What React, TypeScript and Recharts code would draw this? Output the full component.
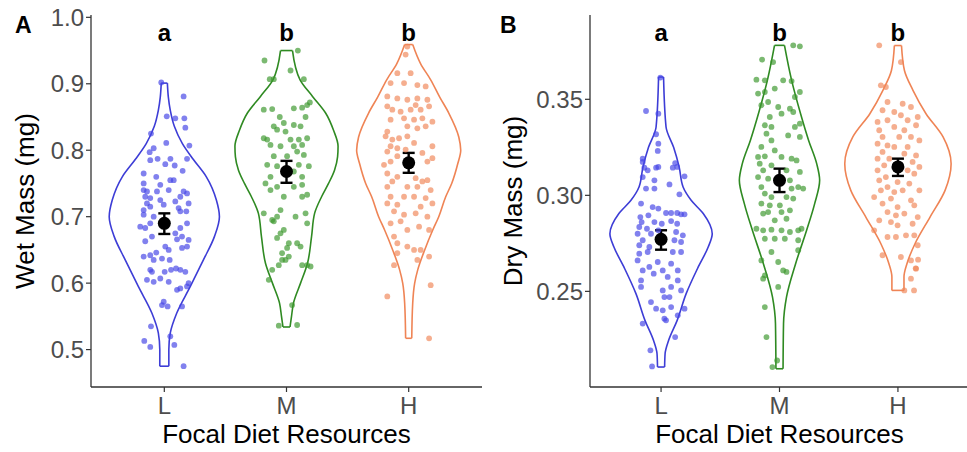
import React from 'react';
import { ScatterChart, Scatter, XAxis, YAxis, ErrorBar } from 'recharts';

const groups = ['L', 'M', 'H'];
const lineColors = ['#3d3dd6', '#2f8a22', '#ef8455'];
const dotColors = ['#4646e6', '#3c982e', '#f0875a'];
const letters = ['a', 'b', 'b'];

// violin outlines: [value, half width in category units], top to bottom
const wetViolinL = [[0.901, 0.025], [0.88, 0.033], [0.86, 0.049], [0.836, 0.082], [0.81, 0.148], [0.786, 0.238], [0.76, 0.344], [0.725, 0.426], [0.70, 0.451], [0.67, 0.41], [0.635, 0.32], [0.595, 0.213], [0.555, 0.102], [0.525, 0.049], [0.50, 0.037], [0.475, 0.037]];
const wetViolinM = [[0.950, 0.049], [0.906, 0.111], [0.881, 0.213], [0.856, 0.32], [0.83, 0.385], [0.806, 0.422], [0.79, 0.418], [0.77, 0.393], [0.75, 0.344], [0.73, 0.287], [0.705, 0.23], [0.67, 0.205], [0.63, 0.172], [0.60, 0.115], [0.57, 0.057], [0.55, 0.041], [0.534, 0.029]];
const wetViolinH = [[0.959, 0.033], [0.93, 0.098], [0.906, 0.18], [0.88, 0.254], [0.856, 0.328], [0.82, 0.41], [0.80, 0.426], [0.78, 0.402], [0.75, 0.352], [0.73, 0.303], [0.70, 0.246], [0.68, 0.197], [0.65, 0.131], [0.62, 0.074], [0.60, 0.049], [0.57, 0.033], [0.517, 0.025]];

const dryViolinL = [[0.3616, 0.021], [0.3356, 0.042], [0.325, 0.106], [0.3147, 0.153], [0.3043, 0.186], [0.2974, 0.254], [0.2905, 0.356], [0.280, 0.432], [0.2731, 0.398], [0.2627, 0.314], [0.2488, 0.212], [0.2349, 0.136], [0.2245, 0.064], [0.2175, 0.034], [0.2106, 0.030]];
const dryViolinM = [[0.3781, 0.042], [0.360, 0.102], [0.3425, 0.178], [0.3286, 0.246], [0.3165, 0.314], [0.3078, 0.339], [0.2957, 0.297], [0.2818, 0.229], [0.2644, 0.136], [0.2470, 0.059], [0.2332, 0.034], [0.2097, 0.030]];
const dryViolinH = [[0.378, 0.030], [0.365, 0.055], [0.3547, 0.127], [0.3425, 0.237], [0.3304, 0.381], [0.3165, 0.449], [0.3026, 0.398], [0.2887, 0.271], [0.2748, 0.144], [0.2644, 0.076], [0.2575, 0.051], [0.2505, 0.051]];

// jittered observations: [offset from group centre, value]
const wetPointsL = [[-0.025, 0.902], [0.158, 0.881], [0.02, 0.851], [0.09, 0.848], [0.164, 0.848], [0.172, 0.834], [-0.109, 0.825], [0.016, 0.811], [0.205, 0.807], [-0.087, 0.803], [-0.12, 0.797], [-0.055, 0.787], [-0.115, 0.785], [0.008, 0.779], [0.05, 0.787], [0.085, 0.777], [0.186, 0.787], [0.15, 0.769], [-0.169, 0.765], [-0.066, 0.76], [0.049, 0.755], [0.077, 0.755], [-0.169, 0.75], [-0.033, 0.748], [-0.169, 0.74], [-0.142, 0.738], [-0.06, 0.738], [0.036, 0.74], [0.158, 0.738], [-0.156, 0.73], [-0.115, 0.728], [-0.033, 0.725], [0.131, 0.73], [0.186, 0.735], [-0.142, 0.72], [-0.005, 0.718], [0.09, 0.723], [0.199, 0.72], [-0.115, 0.715], [0.117, 0.713], [-0.169, 0.71], [0.131, 0.708], [0.18, 0.708], [-0.169, 0.703], [-0.087, 0.7], [-0.115, 0.69], [0.186, 0.69], [-0.197, 0.685], [-0.156, 0.683], [0.131, 0.683], [-0.101, 0.67], [0.09, 0.675], [0.145, 0.67], [0.199, 0.665], [-0.156, 0.663], [0.104, 0.666], [0.008, 0.655], [0.186, 0.655], [0.145, 0.653], [0.036, 0.65], [-0.169, 0.64], [-0.115, 0.642], [-0.066, 0.646], [-0.019, 0.637], [0.044, 0.635], [-0.087, 0.635], [-0.115, 0.62], [-0.101, 0.617], [0.003, 0.617], [0.055, 0.62], [0.096, 0.622], [0.131, 0.62], [0.172, 0.617], [-0.142, 0.605], [-0.087, 0.602], [-0.033, 0.607], [0.036, 0.602], [0.199, 0.6], [0.186, 0.595], [0.131, 0.592], [0.104, 0.59], [-0.005, 0.572], [0.027, 0.565], [-0.019, 0.567], [0.145, 0.565], [-0.109, 0.535], [0.049, 0.52], [-0.164, 0.513], [-0.115, 0.504], [0.082, 0.507], [0.158, 0.475]];
const wetPointsM = [[0.093, 0.95], [-0.18, 0.935], [0.033, 0.92], [-0.137, 0.907], [-0.104, 0.907], [0.142, 0.907], [-0.186, 0.861], [-0.117, 0.862], [0.06, 0.863], [0.128, 0.864], [0.169, 0.868], [0.191, 0.872], [0.156, 0.85], [-0.055, 0.85], [-0.022, 0.841], [-0.104, 0.836], [0.06, 0.838], [0.115, 0.836], [-0.077, 0.831], [-0.008, 0.828], [-0.186, 0.818], [-0.158, 0.816], [0.033, 0.816], [0.101, 0.816], [0.169, 0.818], [-0.131, 0.808], [-0.049, 0.806], [0.06, 0.806], [0.128, 0.808], [0.087, 0.798], [0.142, 0.793], [-0.104, 0.791], [0.005, 0.791], [-0.158, 0.778], [-0.077, 0.776], [0.101, 0.778], [0.183, 0.776], [0.06, 0.768], [0.128, 0.76], [-0.131, 0.76], [-0.172, 0.75], [-0.077, 0.745], [0.06, 0.745], [0.128, 0.748], [-0.131, 0.74], [0.169, 0.733], [-0.022, 0.73], [0.128, 0.73], [-0.049, 0.71], [-0.186, 0.705], [-0.077, 0.7], [-0.117, 0.695], [-0.104, 0.693], [0.074, 0.7], [0.156, 0.705], [0.169, 0.69], [-0.022, 0.68], [-0.049, 0.675], [-0.077, 0.668], [0.019, 0.66], [0.087, 0.66], [0.005, 0.653], [0.115, 0.655], [-0.036, 0.645], [0.019, 0.64], [-0.008, 0.635], [-0.036, 0.635], [0.169, 0.627], [0.128, 0.627], [0.197, 0.625], [-0.063, 0.627], [-0.117, 0.62], [-0.145, 0.605], [0.046, 0.567], [-0.063, 0.536], [0.087, 0.537]];
const wetPointsH = [[-0.011, 0.956], [-0.025, 0.944], [-0.093, 0.916], [0.016, 0.916], [-0.148, 0.901], [-0.038, 0.901], [0.071, 0.898], [0.139, 0.896], [-0.175, 0.881], [-0.093, 0.878], [-0.011, 0.876], [0.071, 0.878], [0.153, 0.876], [0.057, 0.868], [-0.175, 0.866], [-0.134, 0.861], [-0.066, 0.858], [0.016, 0.861], [0.098, 0.861], [0.167, 0.866], [-0.148, 0.846], [-0.038, 0.848], [0.044, 0.846], [0.112, 0.848], [0.194, 0.843], [-0.011, 0.836], [0.071, 0.833], [0.139, 0.836], [-0.175, 0.828], [-0.189, 0.821], [-0.134, 0.816], [-0.079, 0.818], [-0.011, 0.821], [0.044, 0.811], [-0.148, 0.806], [-0.093, 0.803], [-0.175, 0.798], [-0.025, 0.801], [0.194, 0.806], [0.112, 0.796], [-0.093, 0.791], [-0.148, 0.783], [-0.202, 0.778], [0.153, 0.783], [0.194, 0.788], [-0.175, 0.765], [-0.093, 0.76], [0.057, 0.758], [0.112, 0.753], [0.153, 0.755], [-0.134, 0.753], [-0.175, 0.745], [-0.011, 0.745], [0.071, 0.745], [0.18, 0.74], [-0.148, 0.73], [-0.038, 0.73], [0.044, 0.73], [0.139, 0.728], [-0.175, 0.72], [-0.093, 0.718], [0.098, 0.715], [0.194, 0.72], [-0.12, 0.708], [-0.038, 0.703], [0.057, 0.705], [0.153, 0.7], [-0.066, 0.693], [-0.148, 0.69], [-0.011, 0.68], [0.085, 0.685], [0.167, 0.68], [-0.12, 0.67], [-0.093, 0.66], [-0.011, 0.655], [0.044, 0.65], [0.098, 0.65], [-0.093, 0.645], [0.167, 0.64], [0.071, 0.635], [-0.12, 0.627], [0.18, 0.597], [-0.175, 0.58], [0.167, 0.517]];

const dryPointsL = [[-0.006, 0.3613], [-0.127, 0.3439], [-0.023, 0.3425], [-0.042, 0.3318], [-0.023, 0.3269], [-0.028, 0.3231], [-0.155, 0.3191], [-0.155, 0.3174], [0.119, 0.3168], [-0.141, 0.3144], [-0.113, 0.313], [-0.042, 0.3144], [-0.023, 0.3148], [0.099, 0.3144], [0.136, 0.3148], [-0.155, 0.3095], [0.198, 0.3099], [0.071, 0.3057], [-0.056, 0.3078], [-0.127, 0.3035], [-0.056, 0.3035], [0.155, 0.3005], [-0.169, 0.2957], [-0.071, 0.2939], [-0.023, 0.2931], [0.042, 0.2908], [0.085, 0.2908], [0.136, 0.2908], [0.169, 0.2901], [0.198, 0.2901], [-0.175, 0.2887], [-0.107, 0.2896], [-0.164, 0.2861], [-0.056, 0.2861], [0.006, 0.2852], [0.085, 0.2866], [0.136, 0.2852], [-0.184, 0.2835], [-0.119, 0.2826], [-0.023, 0.2818], [0.127, 0.2809], [-0.198, 0.28], [-0.085, 0.28], [0.184, 0.2792], [-0.155, 0.2766], [0.113, 0.2766], [0.169, 0.2757], [-0.184, 0.274], [-0.099, 0.2731], [-0.184, 0.2696], [-0.113, 0.2705], [0.099, 0.2705], [0.169, 0.2705], [-0.198, 0.2661], [-0.028, 0.2653], [0.085, 0.2644], [-0.155, 0.2609], [-0.099, 0.2627], [0.014, 0.2609], [0.141, 0.2609], [-0.169, 0.2557], [-0.062, 0.2592], [0.056, 0.2575], [0.141, 0.2557], [-0.169, 0.2523], [0.085, 0.2523], [0.169, 0.2505], [0.014, 0.2505], [0.071, 0.247], [-0.085, 0.2444], [0.028, 0.247], [-0.042, 0.241], [0.085, 0.2418], [0.014, 0.2401], [0.028, 0.2358], [0.141, 0.2375], [0.198, 0.241], [0.042, 0.2349], [-0.155, 0.2332], [0.119, 0.2262], [-0.09, 0.2193], [-0.076, 0.2109]];
const dryPointsM = [[0.116, 0.3781], [0.172, 0.3776], [-0.147, 0.3707], [-0.054, 0.3694], [-0.195, 0.3602], [-0.124, 0.3599], [0.031, 0.3599], [0.102, 0.3595], [-0.04, 0.3556], [0.172, 0.3538], [-0.181, 0.353], [-0.124, 0.3538], [0.13, 0.3512], [-0.096, 0.3486], [-0.153, 0.3469], [-0.011, 0.346], [0.088, 0.3451], [0.116, 0.3434], [0.017, 0.3425], [-0.082, 0.3408], [0.172, 0.3373], [-0.124, 0.3365], [-0.068, 0.3356], [0.13, 0.3356], [-0.11, 0.3321], [-0.068, 0.3286], [0.073, 0.3312], [0.172, 0.3304], [-0.153, 0.3252], [-0.04, 0.3234], [-0.181, 0.32], [-0.124, 0.3203], [0.017, 0.32], [0.102, 0.3191], [0.144, 0.3182], [-0.167, 0.3165], [-0.068, 0.3156], [-0.138, 0.313], [0.059, 0.313], [0.172, 0.3122], [-0.181, 0.3095], [-0.096, 0.3087], [0.088, 0.3078], [0.158, 0.3043], [-0.153, 0.3043], [0.102, 0.3035], [0.2, 0.3035], [-0.124, 0.3009], [-0.068, 0.2991], [0.059, 0.2991], [0.116, 0.2983], [-0.153, 0.2957], [-0.082, 0.2948], [0.003, 0.2948], [-0.096, 0.2913], [-0.138, 0.2905], [0.017, 0.2913], [0.088, 0.2922], [0.059, 0.2878], [-0.04, 0.287], [-0.195, 0.2826], [-0.138, 0.2818], [-0.068, 0.2821], [0.017, 0.2818], [0.088, 0.2809], [0.158, 0.2818], [0.186, 0.2826], [-0.124, 0.2774], [-0.04, 0.2774], [0.045, 0.2774], [0.158, 0.2766], [-0.068, 0.2705], [0.158, 0.2714], [-0.153, 0.2661], [-0.011, 0.2653], [0.031, 0.2609], [0.059, 0.2601], [-0.124, 0.2583], [-0.138, 0.2566], [-0.011, 0.2523], [-0.124, 0.2418], [-0.11, 0.2262], [-0.02, 0.214], [-0.06, 0.2106]];
const dryPointsH = [[-0.158, 0.3781], [0.025, 0.3694], [-0.144, 0.3573], [-0.102, 0.3564], [-0.088, 0.3486], [0.04, 0.3477], [0.11, 0.346], [-0.13, 0.3443], [-0.031, 0.3434], [0.025, 0.3417], [0.167, 0.3408], [-0.172, 0.3382], [-0.088, 0.3391], [0.082, 0.3391], [0.153, 0.3365], [-0.031, 0.3356], [-0.158, 0.3339], [0.054, 0.3339], [-0.13, 0.3304], [0.011, 0.3304], [0.11, 0.3304], [0.181, 0.3286], [-0.172, 0.3269], [-0.088, 0.326], [-0.031, 0.3252], [0.082, 0.3252], [-0.13, 0.3226], [0.054, 0.3217], [0.153, 0.3208], [-0.172, 0.3191], [-0.073, 0.3191], [0.124, 0.3174], [-0.116, 0.3156], [0.181, 0.3148], [-0.172, 0.313], [0.082, 0.313], [0.138, 0.3113], [-0.102, 0.3095], [-0.158, 0.3078], [-0.003, 0.3069], [0.096, 0.3061], [-0.088, 0.3043], [-0.144, 0.3026], [-0.031, 0.3017], [0.04, 0.3026], [0.181, 0.3026], [-0.201, 0.2991], [-0.059, 0.2983], [0.11, 0.2974], [-0.13, 0.2957], [-0.003, 0.2939], [0.138, 0.2948], [-0.088, 0.2913], [-0.017, 0.2896], [0.054, 0.2905], [0.167, 0.2887], [-0.158, 0.287], [-0.059, 0.2861], [-0.003, 0.2844], [0.124, 0.2852], [-0.201, 0.2818], [-0.088, 0.2783], [-0.017, 0.2783], [0.068, 0.2792], [0.138, 0.2792], [0.167, 0.274], [-0.13, 0.2688], [0.025, 0.2679], [0.11, 0.2661], [0.17, 0.2665], [0.153, 0.2618], [0.15, 0.262], [0.11, 0.2566], [0.054, 0.2505], [0.136, 0.2505]];

// group means with [below, above] error bar lengths
const wetMeans = [0.690, 0.768, 0.781];
const wetErrors = [[0.016, 0.015], [0.017, 0.016], [0.015, 0.015]];
const dryMeans = [0.2771, 0.3078, 0.3148];
const dryErrors = [[0.0054, 0.0047], [0.0061, 0.0061], [0.0047, 0.0043]];

const font = '"Liberation Sans", Arial, Helvetica, sans-serif';
const noShape = () => <g />;

function Panel({ left, width, yWidth, domain, ticks, digits, yLabel, yLabelX, violins, points, means, errors, letterY }: any) {
  const meanData = means.map((m: number, i: number) => ({ x: i + 1, y: m, err: errors[i] }));
  const letterData = letters.map((t, i) => ({ x: i + 1, y: letterY, t }));
  return (
    <div style={{ position: 'absolute', left, top: 0 }}>
      <ScatterChart width={width} height={452} margin={{ top: 15, right: 0, bottom: 0, left: 0 }}>
        <XAxis
          type="number"
          dataKey="x"
          domain={[0.4, 3.6]}
          ticks={[1, 2, 3]}
          allowDataOverflow
          tickFormatter={(v: number) => groups[v - 1]}
          tick={{ fontSize: 24, fill: '#4d4d4d' }}
          tickSize={5}
          tickMargin={5}
          height={65}
          axisLine={{ stroke: '#333', strokeWidth: 1.3 }}
          tickLine={{ stroke: '#333', strokeWidth: 1.2 }}
          label={{ value: 'Focal Diet Resources', position: 'insideBottom', offset: 9, style: { fontSize: 26, fill: '#000' } }}
        />
        <YAxis
          type="number"
          dataKey="y"
          domain={domain}
          ticks={ticks}
          allowDataOverflow
          width={yWidth}
          tickFormatter={(v: number) => v.toFixed(digits)}
          tick={{ fontSize: 24, fill: '#4d4d4d' }}
          tickSize={5}
          tickMargin={2}
          axisLine={{ stroke: '#333', strokeWidth: 1.3 }}
          tickLine={{ stroke: '#333', strokeWidth: 1.2 }}
          label={{ value: yLabel, angle: -90, position: 'insideLeft', offset: yLabelX, style: { textAnchor: 'middle', fontSize: 26, fill: '#000' } }}
        />
        {violins.map((prof: number[][], i: number) => {
          const c = i + 1;
          const top = prof[0];
          const bottom = prof[prof.length - 1];
          const sides = [
            prof.map(([v, h]) => ({ x: c + h, y: v })),
            prof.map(([v, h]) => ({ x: c - h, y: v })),
          ];
          const caps = [
            [{ x: c - top[1], y: top[0] }, { x: c + top[1], y: top[0] }],
            [{ x: c - bottom[1], y: bottom[0] }, { x: c + bottom[1], y: bottom[0] }],
          ];
          return [
            ...sides.map((d, k) => (
              <Scatter key={`s${i}${k}`} data={d} fill={lineColors[i]} shape={noShape} line={{ stroke: lineColors[i], strokeWidth: 1.6 }} lineJointType="monotoneY" isAnimationActive={false} />
            )),
            ...caps.map((d, k) => (
              <Scatter key={`c${i}${k}`} data={d} fill={lineColors[i]} shape={noShape} line={{ stroke: lineColors[i], strokeWidth: 1.6 }} isAnimationActive={false} />
            )),
          ];
        })}
        {points.map((pts: number[][], i: number) => (
          <Scatter
            key={`p${i}`}
            data={pts.map(([dx, v]) => ({ x: i + 1 + dx, y: v }))}
            shape={(p: any) => <circle cx={p.cx} cy={p.cy} r={2.9} fill={dotColors[i]} fillOpacity={0.68} />}
            isAnimationActive={false}
          />
        ))}
        <Scatter data={meanData} shape={(p: any) => <circle cx={p.cx} cy={p.cy} r={6.5} fill="#000" />} isAnimationActive={false}>
          <ErrorBar dataKey="err" direction="y" width={6} stroke="#000" strokeWidth={2.4} />
        </Scatter>
        <Scatter
          data={letterData}
          shape={(p: any) => (
            <text x={p.cx} y={p.cy} textAnchor="middle" fontSize={24} fontWeight="bold" fill="#000" fontFamily={font}>
              {p.payload ? p.payload.t : p.t}
            </text>
          )}
          isAnimationActive={false}
        />
      </ScatterChart>
    </div>
  );
}

export default function App() {
  return (
    <div style={{ position: 'absolute', left: 0, top: 0, width: 967, height: 452, overflow: 'hidden', background: '#fff', fontFamily: font }}>
      <Panel
        left={0}
        width={482}
        yWidth={91}
        domain={[0.4437, 1.0035]}
        ticks={[0.5, 0.6, 0.7, 0.8, 0.9, 1.0]}
        digits={1}
        yLabel="Wet Mass (mg)"
        yLabelX={25}
        violins={[wetViolinL, wetViolinM, wetViolinH]}
        points={[wetPointsL, wetPointsM, wetPointsH]}
        means={wetMeans}
        errors={wetErrors}
        letterY={0.9643}
      />
      <Panel
        left={480}
        width={489}
        yWidth={110}
        domain={[0.2002, 0.3939]}
        ticks={[0.25, 0.3, 0.35]}
        digits={2}
        yLabel="Dry Mass (mg)"
        yLabelX={33}
        violins={[dryViolinL, dryViolinM, dryViolinH]}
        points={[dryPointsL, dryPointsM, dryPointsH]}
        means={dryMeans}
        errors={dryErrors}
        letterY={0.3804}
      />
      <svg width={967} height={452} style={{ position: 'absolute', left: 0, top: 0, pointerEvents: 'none' }}>
        <text x={15} y={33} fontSize={23} fontWeight="bold" fill="#000" fontFamily={font}>A</text>
        <text x={500} y={33} fontSize={23} fontWeight="bold" fill="#000" fontFamily={font}>B</text>
      </svg>
    </div>
  );
}
